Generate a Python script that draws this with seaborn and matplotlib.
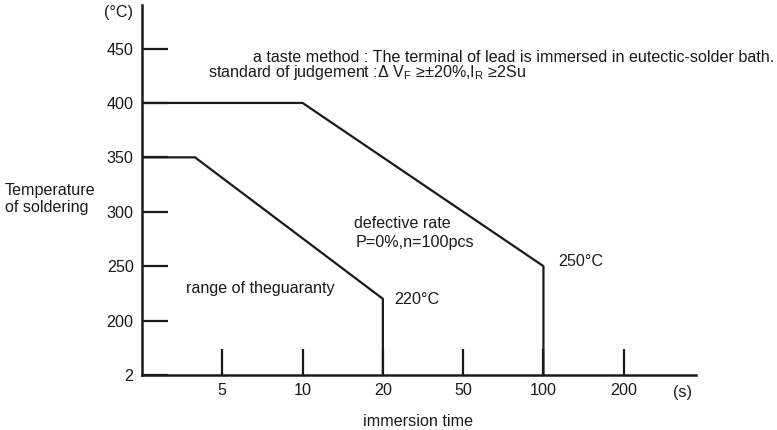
import pandas as pd
import seaborn as sns
import matplotlib.pyplot as plt

# x axis is categorical: origin at position 0, then one slot per time label
time_labels = ['5', '10', '20', '50', '100', '200']
time_pos = [1, 2, 3, 4, 5, 6]

temp_ticks = [150, 200, 250, 300, 350, 400, 450]
temp_labels = ['2', '200', '250', '300', '350', '400', '450']

# defective rate boundary (400C flat, down to 250C at 100 s)
upper_x = [0, 2, 5, 5]
upper_y = [400, 400, 250, 150]

# guaranty range boundary (350C flat, down to 220C at 20 s)
lower_x = [0, 0.66, 3, 3]
lower_y = [350, 350, 220, 150]

sns.set_style('white')
plt.rcParams['font.family'] = ['Liberation Sans', 'DejaVu Sans']
plt.rcParams['mathtext.fontset'] = 'custom'
plt.rcParams['mathtext.rm'] = 'Liberation Sans'
plt.rcParams['mathtext.it'] = 'Liberation Sans'

W, H = 777, 430
fig = plt.figure(figsize=(W / 100, H / 100), dpi=100)
ax = fig.add_axes([142 / W, 1 - 375 / H, (696 - 142) / W, (375 - 5) / H])


def px(x, y):
    return x / W, 1 - y / H


upper = pd.DataFrame({'t': upper_x, 'T': upper_y})
lower = pd.DataFrame({'t': lower_x, 'T': lower_y})
sns.lineplot(data=upper, x='t', y='T', sort=False, estimator=None, color='#1a1a1a', lw=1.6, ax=ax)
sns.lineplot(data=lower, x='t', y='T', sort=False, estimator=None, color='#1a1a1a', lw=1.6, ax=ax)

ax.set_xlim(0, 6.9)
ax.set_ylim(150, 490)
ax.set_xticks(time_pos)
ax.set_xticklabels(time_labels)
ax.set_yticks(temp_ticks)
ax.set_yticklabels(temp_labels)
ax.set_xlabel('')
ax.set_ylabel('')
ax.tick_params(axis='both', direction='in', length=19, width=1.6, color='#1a1a1a',
               labelsize=11.6, labelcolor='#1a1a1a', bottom=True, left=True)
ax.tick_params(axis='y', pad=6)
ax.tick_params(axis='x', pad=6)
for s in ['top', 'right']:
    ax.spines[s].set_visible(False)
for s in ['left', 'bottom']:
    ax.spines[s].set_linewidth(1.8)
    ax.spines[s].set_color('#1a1a1a')

txt = dict(fontsize=11.6, color='#1a1a1a')
fig.text(*px(133, 12), '(°C)', ha='right', va='center', **txt)
fig.text(*px(5, 199), 'Temperature\nof soldering', ha='left', va='center', linespacing=1.1, **txt)
fig.text(*px(253, 57), 'a taste method : The terminal of lead is immersed in eutectic-solder bath.',
         ha='left', va='center', **txt)
fig.text(*px(208, 73), r'standard of judgement :Δ V$_{\mathrm{F}}$ ≥±20%,I$_{\mathrm{R}}$ ≥2Su',
         ha='left', va='center', **txt)
fig.text(*px(354, 223), 'defective rate', ha='left', va='center', **txt)
fig.text(*px(356, 243), 'P=0%,n=100pcs', ha='left', va='center', **txt)
fig.text(*px(558, 262), '250°C', ha='left', va='center', **txt)
fig.text(*px(394, 300), '220°C', ha='left', va='center', **txt)
fig.text(*px(186, 288), 'range of theguaranty', ha='left', va='center', **txt)
fig.text(*px(682, 392), '(s)', ha='center', va='center', **txt)
fig.text(*px(418, 421), 'immersion time', ha='center', va='center', **txt)

fig.savefig('out.png', dpi=100)
